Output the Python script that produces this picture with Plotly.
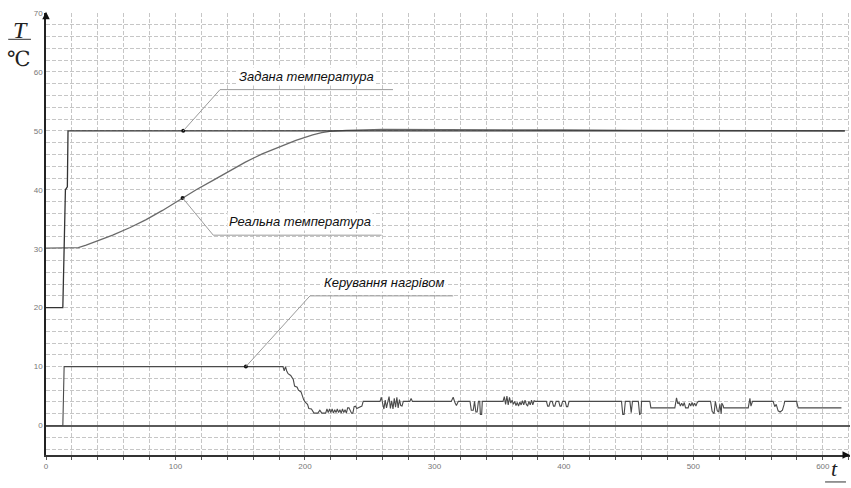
import numpy as np
import plotly.graph_objects as go

# ---------------- data ----------------
set_t = [0, 13, 15, 16.5, 17, 617]
set_T = [20, 20, 40, 40.5, 50, 50]

real_t = [0, 20, 25, 31, 40, 51.5, 65, 77, 90, 103, 116, 129, 142, 154, 167, 180,
          193, 206, 213, 219, 232, 260, 300, 350, 400, 450, 500, 550, 617]
real_T = [30.1, 30.1, 30.2, 30.6, 31.3, 32.3, 33.6, 34.9, 36.5, 38.3, 40.0, 41.6,
          43.2, 44.7, 46.1, 47.3, 48.4, 49.3, 49.7, 49.9, 50.1, 50.25, 50.25, 50.2,
          50.15, 50.1, 50.05, 50.0, 50.0]

ctrl_t = (
    [0, 13, 14, 183]
    + [184, 185, 186, 187, 189, 190, 191, 192, 194, 195, 197, 199, 200, 202, 203, 205, 207]
    + [210, 211.5, 213, 216, 217, 218, 219, 220, 221, 222, 223, 224, 225, 226, 227, 228,
       229, 230, 231, 232, 233, 234, 236, 237]
    + [238, 239, 240, 241, 242, 243, 244, 245]
    + [258, 259, 260, 261, 262, 263, 264, 265, 266, 267, 268, 269, 270, 271, 272, 273,
       274, 275, 276, 281, 282, 283]
    + [313, 314.5, 316, 317, 318.5, 327.5, 328.5, 330, 331, 332, 333, 334, 335, 335.5, 336.5, 337]
    + [353, 354, 355, 356, 357, 358, 359, 360, 361, 362, 363, 364, 365, 366, 367, 368,
       369, 370, 371, 372, 373, 374, 375, 376, 377, 378]
    + [386.5, 387.5, 388.5, 389.5, 391, 392, 393, 394, 396, 397, 398, 399, 401, 402, 403, 404]
    + [444.5, 445.5, 446.5, 447.5, 451, 452, 453, 457.5, 458.5, 459.5, 460, 466.4, 467.2]
    + [485.7, 487, 488, 489, 490, 491, 492, 493, 494, 496, 497, 498, 499, 500, 501, 502,
       503, 504, 505]
    + [513.3, 514.5, 516, 517, 518.5, 519.5, 520.5, 521.5, 522, 523, 523.5]
    + [542.4, 543.7, 544.5, 545.7, 561.6, 562.9, 564, 565.5, 567, 568.8, 570, 570.6,
       579.7, 581, 614.4]
)
ctrl_u = (
    [0, 0, 10, 10]
    + [9.3, 10, 9.2, 8.8, 8.5, 8.0, 7.8, 6.7, 6.5, 6.0, 5.7, 4.4, 4.0, 3.6, 2.9, 2.8, 2.1]
    + [2.1, 2.6, 2.1, 2.1, 2.8, 2.2, 2.8, 2.2, 2.8, 2.1, 2.7, 2.2, 2.8, 2.2, 2.7, 2.1,
       2.8, 2.2, 2.7, 2.1, 3.0, 3.0, 2.1, 2.1]
    + [3.2, 3.3, 2.9, 3.0, 3.2, 3.2, 3.3, 4.1]
    + [4.1, 4.8, 3.4, 2.8, 4.3, 3.0, 4.0, 4.9, 2.9, 4.2, 2.8, 4.6, 3.1, 4.8, 3.0, 4.4,
       3.4, 3.3, 4.1, 4.1, 4.6, 4.1]
    + [4.1, 4.8, 3.8, 3.4, 4.1, 4.1, 2.6, 2.6, 4.1, 2.3, 2.3, 4.1, 4.1, 1.9, 1.9, 4.1]
    + [4.1, 4.9, 3.6, 5.0, 3.5, 4.8, 3.8, 4.3, 3.6, 4.1, 3.4, 3.9, 3.3, 4.0, 3.5, 4.2,
       3.5, 4.3, 3.6, 3.3, 4.1, 3.5, 4.3, 3.5, 4.2, 4.1]
    + [4.1, 3.3, 3.3, 4.1, 4.1, 3.3, 3.3, 4.1, 4.1, 3.3, 3.3, 4.1, 4.1, 3.2, 3.2, 4.1]
    + [4.1, 1.9, 1.9, 4.1, 4.1, 2.2, 4.1, 4.1, 1.9, 2.0, 4.1, 4.1, 3.0]
    + [3.0, 4.7, 3.7, 3.9, 3.3, 3.8, 3.3, 3.9, 3.0, 3.0, 3.8, 3.3, 3.9, 3.3, 3.8, 3.3,
       3.9, 4.1, 4.1]
    + [4.1, 2.4, 2.0, 4.1, 2.5, 2.3, 3.6, 2.0, 3.8, 3.4, 3.0]
    + [3.0, 4.6, 3.3, 4.1, 4.1, 3.2, 3.6, 2.5, 2.3, 2.6, 3.5, 4.1, 4.1, 3.0, 3.0]
)

# callouts
labels = ["Задана температура", "Реальна температура", "Керування нагрівом"]
anchor_t = [106, 105.5, 154.4]
elbow_t = [134.4, 129.2, 203.9]
elbow_y = [57.0, 32.3, 22.0]
shelf_end_t = [268, 259.2, 314.5]
text_t = [201, 196, 261]
text_y = [59.3, 34.7, 24.2]

x_ticks = [0, 100, 200, 300, 400, 500, 600]
y_ticks = [0, 10, 20, 30, 40, 50, 60, 70]

# ---------------- figure ----------------
fig = go.Figure()
fig.add_trace(go.Scatter(x=real_t, y=real_T, mode="lines",
                         line=dict(color="#6a6a6a", width=1.3), showlegend=False))
fig.add_trace(go.Scatter(x=set_t, y=set_T, mode="lines",
                         line=dict(color="#333333", width=1.3), showlegend=False))
fig.add_trace(go.Scatter(x=ctrl_t, y=ctrl_u, mode="lines",
                         line=dict(color="#4a4a4a", width=1.1), showlegend=False))

series = [(set_t, set_T), (real_t, real_T), (ctrl_t, ctrl_u)]
dot_y = [float(np.interp(a, s[0], s[1])) for a, s in zip(anchor_t, series)]

for i in range(3):
    fig.add_shape(type="line", x0=anchor_t[i], y0=dot_y[i], x1=elbow_t[i], y1=elbow_y[i],
                  line=dict(color="#9a9a9a", width=1))
    fig.add_shape(type="line", x0=elbow_t[i], y0=elbow_y[i], x1=shelf_end_t[i], y1=elbow_y[i],
                  line=dict(color="#9a9a9a", width=1))
    fig.add_annotation(x=text_t[i], y=text_y[i], text="<i>" + labels[i] + "</i>",
                       showarrow=False, bgcolor="white",
                       font=dict(family="Liberation Sans, Arial", size=13, color="#111111"))

fig.add_trace(go.Scatter(x=anchor_t, y=dot_y, mode="markers",
                         marker=dict(color="#111111", size=4), showlegend=False))

# axis arrows
fig.add_annotation(xref="paper", yref="paper", x=0, y=1.003, ax=0, ay=8, text="",
                   showarrow=True, arrowhead=2, arrowsize=1, arrowwidth=1.5, arrowcolor="#111")
fig.add_annotation(xref="paper", yref="paper", x=1.0, y=0, ax=-8, ay=0, text="",
                   showarrow=True, arrowhead=2, arrowsize=1, arrowwidth=1.5, arrowcolor="#111")

# axis titles (T / ℃ and t)
fig.add_annotation(xref="paper", yref="paper", x=-0.0323, y=0.962, text="<i>T</i>",
                   xanchor="center", yanchor="middle",
                   showarrow=False, font=dict(family="Liberation Serif, DejaVu Serif", size=24, color="#222"))
fig.add_shape(type="line", xref="paper", yref="paper", x0=-0.047, x1=-0.0187, y0=0.9405, y1=0.9405,
              line=dict(color="#333", width=1))
fig.add_annotation(xref="paper", yref="paper", x=-0.033, y=0.895, text="℃",
                   xanchor="center", yanchor="middle",
                   showarrow=False, font=dict(family="Liberation Serif, DejaVu Serif", size=21, color="#222"))
fig.add_annotation(xref="paper", yref="paper", x=0.9813, y=-0.03, text="<i>t</i>",
                   xanchor="center", yanchor="middle",
                   showarrow=False, font=dict(family="Liberation Serif, DejaVu Serif", size=22, color="#222"))
fig.add_shape(type="line", xref="paper", yref="paper", x0=0.969, x1=0.995, y0=-0.061, y1=-0.061,
              line=dict(color="#333", width=1))

grid_col = "#c6c6c6"
grid_dash = "4px,2px"
fig.update_xaxes(range=[0, 621], tickvals=x_ticks, showgrid=True, gridcolor=grid_col,
                 griddash=grid_dash, gridwidth=1, zeroline=False, automargin=False,
                 showline=True, linecolor="#333", linewidth=1.5,
                 ticks="outside", ticklen=3, tickcolor="#555",
                 tickfont=dict(family="Liberation Sans Narrow, Liberation Sans", size=8, color="#777"),
                 minor=dict(dtick=20, tick0=0, showgrid=True, gridcolor=grid_col, griddash=grid_dash,
                            gridwidth=1, ticks="outside", ticklen=3, tickcolor="#555"))
fig.update_yaxes(range=[-5, 70], tickvals=y_ticks, showgrid=True, gridcolor=grid_col,
                 griddash=grid_dash, gridwidth=1, automargin=False,
                 zeroline=True, zerolinecolor="#5a5a5a", zerolinewidth=2,
                 showline=True, linecolor="#222", linewidth=1.5, ticks="",
                 tickfont=dict(family="Liberation Sans Narrow, Liberation Sans", size=8, color="#777"),
                 minor=dict(dtick=2, tick0=0, showgrid=True, gridcolor=grid_col, griddash=grid_dash,
                            gridwidth=1))

fig.update_layout(width=851, height=488,
                  margin=dict(l=46, r=1, t=13, b=33, autoexpand=False),
                  plot_bgcolor="white", paper_bgcolor="white", showlegend=False)

fig.write_html("out.html", config={"displayModeBar": False},
               post_script="document.body.style.margin='0';")
